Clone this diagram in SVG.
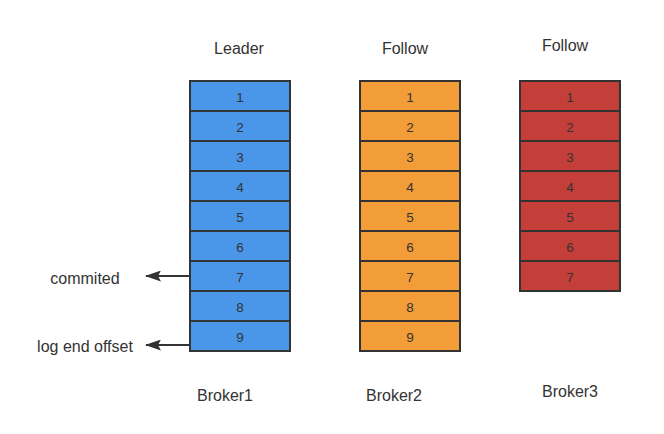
<svg xmlns="http://www.w3.org/2000/svg" width="664" height="434" viewBox="0 0 664 434">
<style>
text{font-family:"Liberation Sans",Arial,sans-serif;fill:#333;text-anchor:middle}
.n{font-size:13.5px}
.t{font-size:16px}
.c rect{stroke:#333;stroke-width:2}
.b rect{fill:#4A96E8}
.o rect{fill:#F29D38}
.r rect{fill:#C43F3A}
.a{stroke:#333;stroke-width:2;fill:none}
</style>
<defs>
<marker id="ah" viewBox="0 0 16 11" refX="15" refY="5.5" markerWidth="16" markerHeight="11" markerUnits="userSpaceOnUse" orient="auto">
<path d="M0,0 L16,5.5 L0,11 L3,5.5 Z" fill="#333"/>
</marker>
</defs>
<rect width="664" height="434" fill="#fff"/>
<text class="t" x="239" y="54">Leader</text>
<text class="t" x="405" y="54">Follow</text>
<text class="t" x="565" y="51">Follow</text>
<g id="broker1" class="c b">
<rect x="190" y="81" width="100" height="30"/><text class="n" x="240" y="102">1</text>
<rect x="190" y="111" width="100" height="30"/><text class="n" x="240" y="132">2</text>
<rect x="190" y="141" width="100" height="30"/><text class="n" x="240" y="162">3</text>
<rect x="190" y="171" width="100" height="30"/><text class="n" x="240" y="192">4</text>
<rect x="190" y="201" width="100" height="30"/><text class="n" x="240" y="222">5</text>
<rect x="190" y="231" width="100" height="30"/><text class="n" x="240" y="252">6</text>
<rect x="190" y="261" width="100" height="30"/><text class="n" x="240" y="282">7</text>
<rect x="190" y="291" width="100" height="30"/><text class="n" x="240" y="312">8</text>
<rect x="190" y="321" width="100" height="30"/><text class="n" x="240" y="342">9</text>
</g>
<g id="broker2" class="c o">
<rect x="360" y="81" width="100" height="30"/><text class="n" x="410" y="102">1</text>
<rect x="360" y="111" width="100" height="30"/><text class="n" x="410" y="132">2</text>
<rect x="360" y="141" width="100" height="30"/><text class="n" x="410" y="162">3</text>
<rect x="360" y="171" width="100" height="30"/><text class="n" x="410" y="192">4</text>
<rect x="360" y="201" width="100" height="30"/><text class="n" x="410" y="222">5</text>
<rect x="360" y="231" width="100" height="30"/><text class="n" x="410" y="252">6</text>
<rect x="360" y="261" width="100" height="30"/><text class="n" x="410" y="282">7</text>
<rect x="360" y="291" width="100" height="30"/><text class="n" x="410" y="312">8</text>
<rect x="360" y="321" width="100" height="30"/><text class="n" x="410" y="342">9</text>
</g>
<g id="broker3" class="c r">
<rect x="520" y="81" width="100" height="30"/><text class="n" x="570" y="102">1</text>
<rect x="520" y="111" width="100" height="30"/><text class="n" x="570" y="132">2</text>
<rect x="520" y="141" width="100" height="30"/><text class="n" x="570" y="162">3</text>
<rect x="520" y="171" width="100" height="30"/><text class="n" x="570" y="192">4</text>
<rect x="520" y="201" width="100" height="30"/><text class="n" x="570" y="222">5</text>
<rect x="520" y="231" width="100" height="30"/><text class="n" x="570" y="252">6</text>
<rect x="520" y="261" width="100" height="30"/><text class="n" x="570" y="282">7</text>
</g>
<g id="connectors">
<line class="a" x1="190" y1="276" x2="146" y2="276" marker-end="url(#ah)"/>
<line class="a" x1="190" y1="345" x2="146" y2="345" marker-end="url(#ah)"/>
</g>
<text class="t" x="85" y="284">commited</text>
<text class="t" x="85" y="352">log end offset</text>
<text class="t" x="225" y="401">Broker1</text>
<text class="t" x="394" y="401">Broker2</text>
<text class="t" x="570" y="397">Broker3</text>
</svg>
